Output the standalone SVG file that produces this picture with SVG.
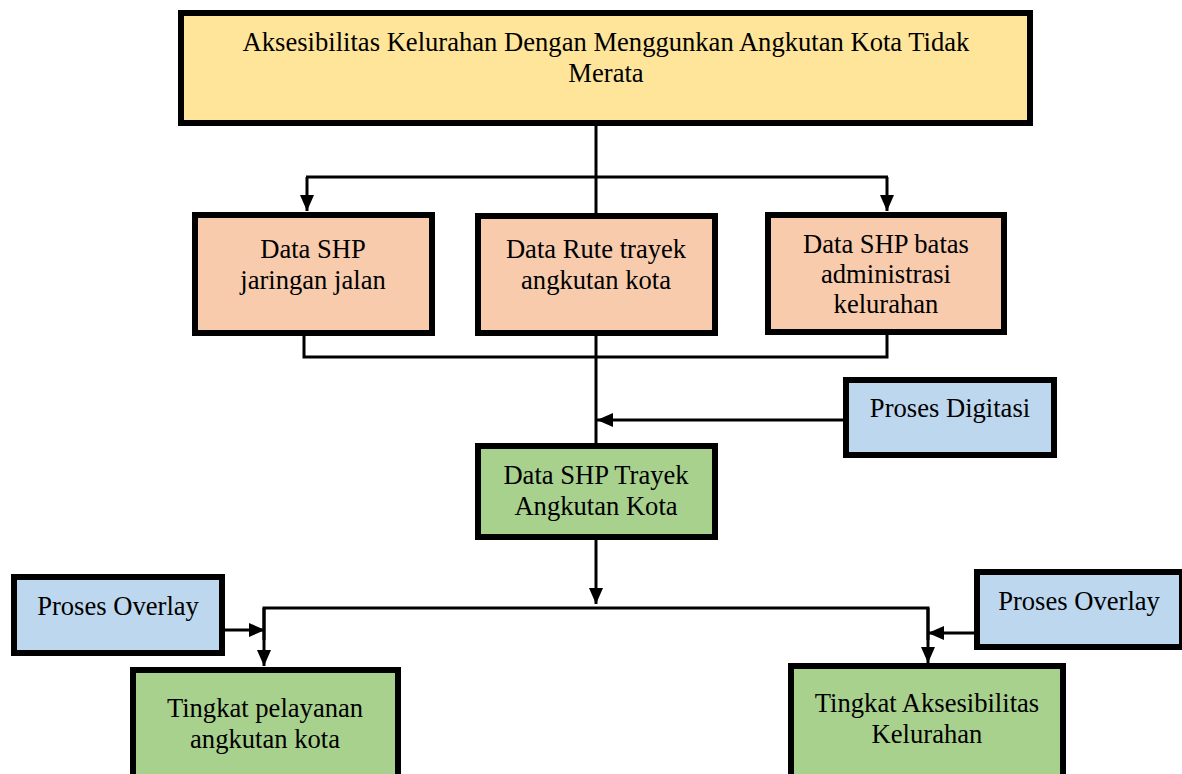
<svg xmlns="http://www.w3.org/2000/svg" width="1182" height="774" viewBox="0 0 1182 774">
<style>
.box{stroke:#000;stroke-width:6}
.y{fill:#FFE599}.p{fill:#F8CBAD}.b{fill:#BDD7EE}.g{fill:#A9D18E}
text{font-family:"Liberation Serif","Times New Roman",serif;font-size:26.6px;fill:#000;text-anchor:middle}
.c{fill:none;stroke:#000;stroke-width:3}
</style>
<defs>
<marker id="ah" markerUnits="userSpaceOnUse" markerWidth="16" markerHeight="14" refX="16" refY="7" orient="auto">
<path d="M0,0 L16,7 L0,14 z" fill="#000"/>
</marker>
</defs>
<rect width="1182" height="774" fill="#fff"/>
<g id="connectors">
<line class="c" x1="596" y1="126" x2="596" y2="214"/>
<line class="c" x1="306" y1="177" x2="888" y2="177"/>
<line class="c" x1="307" y1="177" x2="307" y2="211" marker-end="url(#ah)"/>
<line class="c" x1="887" y1="177" x2="887" y2="211" marker-end="url(#ah)"/>
<polyline class="c" points="304,336 304,357 887,357 887,335"/>
<line class="c" x1="596" y1="336" x2="596" y2="444"/>
<line class="c" x1="843" y1="420" x2="597" y2="420" marker-end="url(#ah)"/>
<line class="c" x1="596" y1="540" x2="596" y2="604" marker-end="url(#ah)"/>
<polyline class="c" points="264,640 264,608 928,608 928,640"/>
<line class="c" x1="264" y1="608" x2="264" y2="666" marker-end="url(#ah)"/>
<line class="c" x1="928" y1="608" x2="928" y2="663" marker-end="url(#ah)"/>
<line class="c" x1="225" y1="630" x2="265" y2="630" marker-end="url(#ah)"/>
<line class="c" x1="974" y1="633" x2="928" y2="633" marker-end="url(#ah)"/>
</g>
<g id="n-top">
<rect class="box y" x="181" y="13" width="849" height="110"/>
<text x="606" y="51">Aksesibilitas Kelurahan Dengan Menggunkan Angkutan Kota Tidak</text>
<text x="606" y="82">Merata</text>
</g>
<g id="n-jalan">
<rect class="box p" x="195" y="215" width="237" height="118"/>
<text x="313" y="258">Data SHP</text>
<text x="313" y="289">jaringan jalan</text>
</g>
<g id="n-rute">
<rect class="box p" x="478" y="216" width="237" height="117"/>
<text x="596" y="258">Data Rute trayek</text>
<text x="596" y="289">angkutan kota</text>
</g>
<g id="n-batas">
<rect class="box p" x="768" y="215" width="236" height="117"/>
<text x="886" y="253">Data SHP batas</text>
<text x="886" y="283">administrasi</text>
<text x="886" y="313">kelurahan</text>
</g>
<g id="n-digitasi">
<rect class="box b" x="846" y="380" width="208" height="75"/>
<text x="950" y="417">Proses Digitasi</text>
</g>
<g id="n-trayek">
<rect class="box g" x="478" y="446" width="237" height="91"/>
<text x="596" y="484">Data SHP Trayek</text>
<text x="596" y="515">Angkutan Kota</text>
</g>
<g id="n-overlay-l">
<rect class="box b" x="14" y="577" width="208" height="76"/>
<text x="118" y="615">Proses Overlay</text>
</g>
<g id="n-pelayanan">
<rect class="box g" x="133" y="670" width="265" height="112"/>
<text x="265" y="717">Tingkat pelayanan</text>
<text x="265" y="748">angkutan kota</text>
</g>
<g id="n-overlay-r">
<rect class="box b" x="977" y="572" width="205" height="75"/>
<text x="1079" y="610">Proses Overlay</text>
</g>
<g id="n-aksesibilitas">
<rect class="box g" x="791" y="666" width="272" height="112"/>
<text x="927" y="712">Tingkat Aksesibilitas</text>
<text x="927" y="743">Kelurahan</text>
</g>
</svg>
